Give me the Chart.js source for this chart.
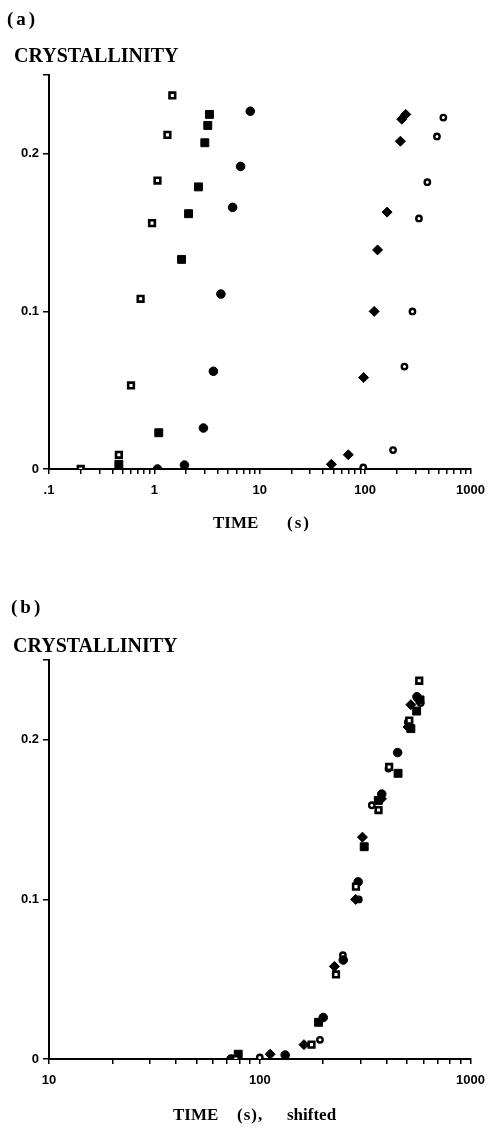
<!DOCTYPE html>
<html>
<head>
<meta charset="utf-8">
<script src="https://cdn.jsdelivr.net/npm/chart.js@4.4.0/dist/chart.umd.min.js"></script>
<style>
  html, body { margin: 0; padding: 0; background: #fff; }
  body { width: 491px; height: 1142px; position: relative; overflow: hidden; }
  canvas { position: absolute; left: 0; }
  #ca { top: 0; }
  #cb { top: 560px; }
</style>
</head>
<body>
<canvas id="ca" width="491" height="540"></canvas>
<canvas id="cb" width="491" height="582"></canvas>
<script>
// ---------- DATA ----------
// Panel (a): time (s) vs crystallinity
const openSquaresA_t   = [0.2, 0.46, 0.6, 0.74, 0.95, 1.07, 1.33, 1.48];
const openSquaresA_y   = [0, 0.009, 0.053, 0.108, 0.156, 0.183, 0.212, 0.237];
const filledSquaresA_t = [0.46, 1.1, 1.81, 2.11, 2.62, 3.01, 3.21, 3.33];
const filledSquaresA_y = [0.003, 0.023, 0.133, 0.162, 0.179, 0.207, 0.218, 0.225];
const filledCirclesA_t = [1.07, 1.93, 2.92, 3.63, 4.28, 5.53, 6.58, 8.13];
const filledCirclesA_y = [0, 0.0025, 0.026, 0.062, 0.111, 0.166, 0.192, 0.227];
const diamondsA_t      = [47.8, 69.2, 96.7, 121.8, 131.2, 161.6, 216, 222.6, 242.7];
const diamondsA_y      = [0.003, 0.009, 0.058, 0.100, 0.139, 0.163, 0.208, 0.222, 0.225];
const openCirclesA_t   = [95.9, 184, 236, 281, 324, 389, 480, 552];
const openCirclesA_y   = [0.001, 0.012, 0.065, 0.100, 0.159, 0.182, 0.211, 0.223];

// Panel (b): shifted time (s) vs crystallinity
const openSquaresB_t   = [77, 176, 230, 286, 366, 411, 512, 571];
const filledSquaresB_t = [79, 190, 313, 365, 453, 521, 555, 576];
const filledCirclesB_t = [73, 132, 200, 249, 293, 379, 451, 557];
const diamondsB_t      = [112, 162, 226, 285, 307, 378, 505, 521, 568];
const openCirclesB_t   = [100, 193, 248, 295, 340, 408, 504, 580];

// Tick values / labels
const xMajorA = [0.1, 1, 10, 100, 1000];
const xLabelsA = ['.1', '1', '10', '100', '1000'];
const xMajorB = [10, 100, 1000];
const xLabelsB = ['10', '100', '1000'];
const yTicks = [0, 0.1, 0.2, 0.25];
const yLabels = ['0', '0.1', '0.2', ''];

// ---------- HELPERS ----------
function pts(ts, ys) { return ts.map((t, i) => ({ x: t, y: ys[i] })); }
function minorTicks(majors) {
  const out = [];
  for (let i = 0; i < majors.length; i++) {
    out.push(majors[i]);
    if (i < majors.length - 1) for (let k = 2; k <= 9; k++) out.push(+(majors[i] * k).toPrecision(6));
  }
  return out;
}

const styles = {
  openSquare:   { pointStyle: 'rect',    pointRadius: 4.0, pointBackgroundColor: '#fff', pointBorderColor: '#000', pointBorderWidth: 2.6 },
  filledSquare: { pointStyle: 'rect',    pointRadius: 5.6, pointBackgroundColor: '#000', pointBorderColor: '#000', pointBorderWidth: 1 },
  filledCircle: { pointStyle: 'circle',  pointRadius: 4.3, pointBackgroundColor: '#000', pointBorderColor: '#000', pointBorderWidth: 1 },
  diamond:      { pointStyle: 'rectRot', pointRadius: 5.0, pointBackgroundColor: '#000', pointBorderColor: '#000', pointBorderWidth: 1 },
  openCircle:   { pointStyle: 'circle',  pointRadius: 2.7, pointBackgroundColor: '#fff', pointBorderColor: '#000', pointBorderWidth: 2.4 }
};
function ds(label, data, st) {
  return Object.assign({ label, data, showLine: false, pointHoverRadius: st.pointRadius }, st);
}

const textPlugin = {
  id: 'texts',
  afterDraw(chart, args, opts) {
    const ctx = chart.ctx;
    ctx.save();
    ctx.fillStyle = '#000';
    ctx.textBaseline = 'alphabetic';
    for (const t of opts.items || []) {
      ctx.font = t.font;
      ctx.textAlign = 'left';
      if ('letterSpacing' in ctx) ctx.letterSpacing = t.ls || '0px';
      ctx.fillText(t.text, t.x, t.y);
    }
    if ('letterSpacing' in ctx) ctx.letterSpacing = '0px';
    ctx.restore();
  }
};

const SERIF = '"Liberation Serif", "Times New Roman", serif';
const SANS = '"Liberation Sans", Arial, sans-serif';

function makeChart(canvasId, datasets, xMin, xMax, xMajor, xLabels, layout, items) {
  const xTickVals = minorTicks(xMajor);
  return new Chart(document.getElementById(canvasId), {
    type: 'scatter',
    data: { datasets },
    plugins: [textPlugin],
    options: {
      responsive: false,
      animation: false,
      devicePixelRatio: 1,
      layout: { padding: layout.padding },
      plugins: { legend: { display: false }, tooltip: { enabled: false }, texts: { items } },
      scales: {
        x: {
          type: 'logarithmic',
          min: xMin, max: xMax,
          afterBuildTicks: s => { s.ticks = xTickVals.map(v => ({ value: v, major: xMajor.includes(v) })); },
          afterFit: s => { s.height = layout.xHeight; },
          ticks: {
            autoSkip: false, maxRotation: 0, minRotation: 0, padding: 6, color: '#000',
            font: { family: SANS, size: 13, weight: 'bold', lineHeight: 1.6 },
            callback: (v) => { const i = xMajor.indexOf(v); return i >= 0 ? xLabels[i] : ''; }
          },
          grid: { drawOnChartArea: false, drawTicks: true, tickLength: 5, color: '#000', lineWidth: 1.5 },
          border: { display: true, color: '#000', width: 2 }
        },
        y: {
          min: 0, max: 0.25,
          afterBuildTicks: s => { s.ticks = yTicks.map(v => ({ value: v })); },
          afterFit: s => { s.width = 49; },
          ticks: {
            autoSkip: false, padding: 4, color: '#000',
            font: { family: SANS, size: 13, weight: 'bold' },
            callback: (v) => { const i = yTicks.indexOf(v); return i >= 0 ? yLabels[i] : ''; }
          },
          grid: { drawOnChartArea: false, drawTicks: true, tickLength: 6, color: '#000', lineWidth: 1.5 },
          border: { display: true, color: '#000', width: 2 }
        }
      }
    }
  });
}

// Panel (a)
makeChart('ca', [
  ds('open squares', pts(openSquaresA_t, openSquaresA_y), styles.openSquare),
  ds('filled squares', pts(filledSquaresA_t, filledSquaresA_y), styles.filledSquare),
  ds('filled circles', pts(filledCirclesA_t, filledCirclesA_y), styles.filledCircle),
  ds('diamonds', pts(diamondsA_t, diamondsA_y), styles.diamond),
  ds('open circles', pts(openCirclesA_t, openCirclesA_y), styles.openCircle)
], 0.1, 1000, xMajorA, xLabelsA,
{ padding: { top: 75, right: 19, bottom: 0, left: 0 }, xHeight: 71 },
[
  { text: '(a)', x: 7, y: 25, font: 'bold 19px ' + SERIF, ls: '3px' },
  { text: 'CRYSTALLINITY', x: 14, y: 62, font: 'bold 20px ' + SERIF },
  { text: 'TIME', x: 213, y: 528, font: 'bold 17px ' + SERIF },
  { text: '(s)', x: 287, y: 528, font: 'bold 17px ' + SERIF, ls: '2px' }
]);

// Panel (b)
makeChart('cb', [
  ds('open squares', pts(openSquaresB_t, openSquaresA_y), styles.openSquare),
  ds('filled squares', pts(filledSquaresB_t, filledSquaresA_y), styles.filledSquare),
  ds('filled circles', pts(filledCirclesB_t, filledCirclesA_y), styles.filledCircle),
  ds('diamonds', pts(diamondsB_t, diamondsA_y), styles.diamond),
  ds('open circles', pts(openCirclesB_t, openCirclesA_y), styles.openCircle)
], 10, 1000, xMajorB, xLabelsB,
{ padding: { top: 100, right: 19, bottom: 0, left: 0 }, xHeight: 83 },
[
  { text: '(b)', x: 11, y: 53, font: 'bold 19px ' + SERIF, ls: '3px' },
  { text: 'CRYSTALLINITY', x: 13, y: 92, font: 'bold 20px ' + SERIF },
  { text: 'TIME', x: 173, y: 560, font: 'bold 17px ' + SERIF },
  { text: '(s),', x: 237, y: 560, font: 'bold 17px ' + SERIF, ls: '1px' },
  { text: 'shifted', x: 287, y: 560, font: 'bold 17px ' + SERIF }
]);
</script>
</body>
</html>
